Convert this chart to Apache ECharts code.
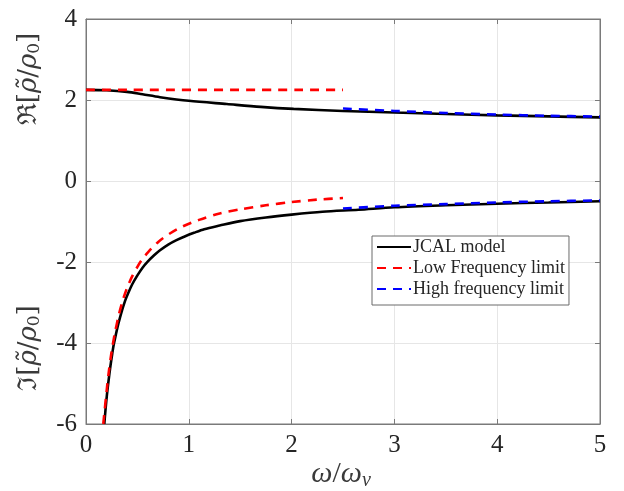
<!DOCTYPE html>
<html><head><meta charset="utf-8">
<script src="https://cdn.jsdelivr.net/npm/echarts@6/dist/echarts.min.js"></script>
<style>html,body{margin:0;padding:0;background:#fff}#c{width:624px;height:491px}</style>
</head><body><div id="c"></div>
<script>
// x values and values
var jcalReX = [0, 0.2, 0.4, 0.55, 0.72, 1.0, 1.37, 1.70, 2.02, 2.5, 3.0, 3.5, 4.0, 4.5, 5.0];
var jcalReY = [2.25, 2.24, 2.20, 2.14, 2.07, 1.98, 1.90, 1.83, 1.78, 1.73, 1.69, 1.655, 1.62, 1.595, 1.57];
var jcalImX = [0.178, 0.19, 0.204, 0.22, 0.237, 0.255, 0.269, 0.29, 0.31, 0.33, 0.35, 0.38, 0.41, 0.45, 0.50, 0.55, 0.60, 0.66, 0.72, 0.80, 0.88, 0.96, 1.05, 1.15, 1.3, 1.5, 1.75, 2.0, 2.3, 2.65, 3.0, 3.5, 4.0, 4.5, 5.0];
var jcalImY = [-6.00, -5.64, -5.27, -4.92, -4.58, -4.27, -4.05, -3.80, -3.57, -3.38, -3.20, -2.96, -2.77, -2.55, -2.33, -2.14, -1.99, -1.84, -1.71, -1.57, -1.46, -1.37, -1.28, -1.19, -1.10, -0.99, -0.90, -0.83, -0.76, -0.71, -0.65, -0.60, -0.56, -0.53, -0.50];
var lowReX = [0, 2.5];
var lowReY = [2.25, 2.25];
var lowImX = [0.168, 0.18, 0.2, 0.22, 0.25, 0.28, 0.32, 0.36, 0.40, 0.45, 0.50, 0.545, 0.6, 0.7, 0.82, 0.95, 1.1, 1.3, 1.5, 1.75, 2.0, 2.25, 2.5];
var lowImY = [-6.0, -5.7, -5.2, -4.75, -4.2, -3.77, -3.3, -2.93, -2.64, -2.35, -2.12, -1.94, -1.77, -1.51, -1.29, -1.11, -0.96, -0.80, -0.70, -0.60, -0.52, -0.46, -0.42];
var highX = [2.5, 3.0, 3.5, 4.0, 4.5, 5.0];
var highReY = [1.79, 1.73, 1.68, 1.64, 1.61, 1.59];
var highImY = [-0.68, -0.61, -0.57, -0.53, -0.50, -0.48];
var xTicks = [0, 1, 2, 3, 4, 5];
var yTicks = [-6, -4, -2, 0, 2, 4];
var names = ['JCAL model', 'Low Frequency limit', 'High frequency limit'];

function pairs(xs, ys) { return xs.map(function (x, i) { return [x, ys[i]]; }); }

var chart = echarts.init(document.getElementById('c'), null, {renderer: 'canvas'});
var serif = 'Liberation Serif';
var axCol = '#7a7a7a';
var txtCol = '#262626';
var labCol = '#3a3a3a';
function mkLine(name, data, color, dashed) {
  return {
    name: name, type: 'line', data: data, showSymbol: false, symbol: 'none',
    smooth: 0.3, animation: false,
    lineStyle: {color: color, width: 2.6, type: dashed ? [9, 7] : 'solid', cap: 'butt'},
    itemStyle: {color: color}
  };
}
function axisBase(extra) {
  var a = {
    type: 'value',
    axisLine: {show: true, onZero: false, lineStyle: {color: axCol}},
    axisTick: {show: true, inside: true, length: 5, lineStyle: {color: axCol}},
    splitLine: {show: false}
  };
  for (var k in extra) a[k] = extra[k];
  return a;
}
var yLabRich = {
  a: {fontFamily: 'DejaVu Serif', fontSize: 26, fill: labCol},
  i: {fontFamily: 'DejaVu Serif', fontStyle: 'italic', fontSize: 26, fill: labCol},
  b: {fontFamily: 'DejaVu Serif', fontSize: 26, fill: labCol},
  s: {fontFamily: 'DejaVu Serif', fontSize: 17, fill: labCol, verticalAlign: 'bottom', padding: [12, 0, 0, 0]}
};
var option = {
  backgroundColor: '#fff',
  animation: false,
  grid: {left: 86, right: 24, top: 19, bottom: 67, show: true, borderColor: axCol, borderWidth: 1},
  xAxis: [axisBase({
    min: 0, max: 5, interval: 1,
    axisLabel: {color: txtCol, fontFamily: serif, fontSize: 25, margin: 9,
      formatter: function (v) { return xTicks.indexOf(v) >= 0 ? String(v) : ''; }},
    splitLine: {show: true, lineStyle: {color: '#e6e6e6', width: 1}}
  }), axisBase({
    min: 0, max: 5, interval: 1, position: 'top', axisLabel: {show: false}
  })],
  yAxis: [axisBase({
    min: -6, max: 4, interval: 2,
    axisLabel: {color: txtCol, fontFamily: serif, fontSize: 25, margin: 9,
      formatter: function (v) { return yTicks.indexOf(v) >= 0 ? String(v) : ''; }},
    splitLine: {show: true, lineStyle: {color: '#e6e6e6', width: 1}}
  }), axisBase({
    min: -6, max: 4, interval: 2, position: 'right', axisLabel: {show: false}
  })],
  legend: {
    data: names, orient: 'vertical', left: 372, top: 236,
    itemWidth: 34, itemHeight: 16, itemGap: 3,
    padding: [2, 4, 7, 4],
    borderColor: '#6a6a6a', borderWidth: 1, backgroundColor: '#fff',
    textStyle: {fontFamily: serif, fontSize: 18, color: txtCol, padding: [0, 0, 0, -3]},
    itemStyle: {opacity: 0}
  },
  series: [
    mkLine(names[0], pairs(jcalReX, jcalReY), '#000000', false),
    mkLine(names[0], pairs(jcalImX, jcalImY), '#000000', false),
    mkLine(names[1], pairs(lowReX, lowReY), '#ff0000', true),
    mkLine(names[1], pairs(lowImX, lowImY), '#ff0000', true),
    mkLine(names[2], pairs(highX, highReY), '#0000ff', true),
    mkLine(names[2], pairs(highX, highImY), '#0000ff', true)
  ],
  graphic: [
    {type: 'text', x: 29, y: 79, rotation: Math.PI / 2, silent: true,
      style: {text: '{a|ℜ}{b|[}{i|ρ̃}{b|/}{i|ρ}{s|0}{b|]}', align: 'center', verticalAlign: 'middle', fill: labCol,
        font: '26px "DejaVu Serif"', rich: yLabRich}},
    {type: 'text', x: 29, y: 348, rotation: Math.PI / 2, silent: true,
      style: {text: '{a|ℑ}{b|[}{i|ρ̃}{b|/}{i|ρ}{s|0}{b|]}', align: 'center', verticalAlign: 'middle', fill: labCol,
        font: '26px "DejaVu Serif"', rich: yLabRich}},
    {type: 'text', x: 341, y: 474, silent: true,
      style: {text: '{i|ω}{b|/}{i|ω}{s|ν}', align: 'center', verticalAlign: 'middle', fill: labCol,
        font: 'italic 28px "Liberation Serif"',
        rich: {i: {fontFamily: serif, fontStyle: 'italic', fontSize: 30, fill: labCol},
               b: {fontFamily: serif, fontSize: 30, fill: labCol},
               s: {fontFamily: serif, fontStyle: 'italic', fontSize: 20, fill: labCol, verticalAlign: 'bottom', padding: [13, 0, 0, 0]}}}}
  ]
};
chart.setOption(option);
</script>
</body></html>
